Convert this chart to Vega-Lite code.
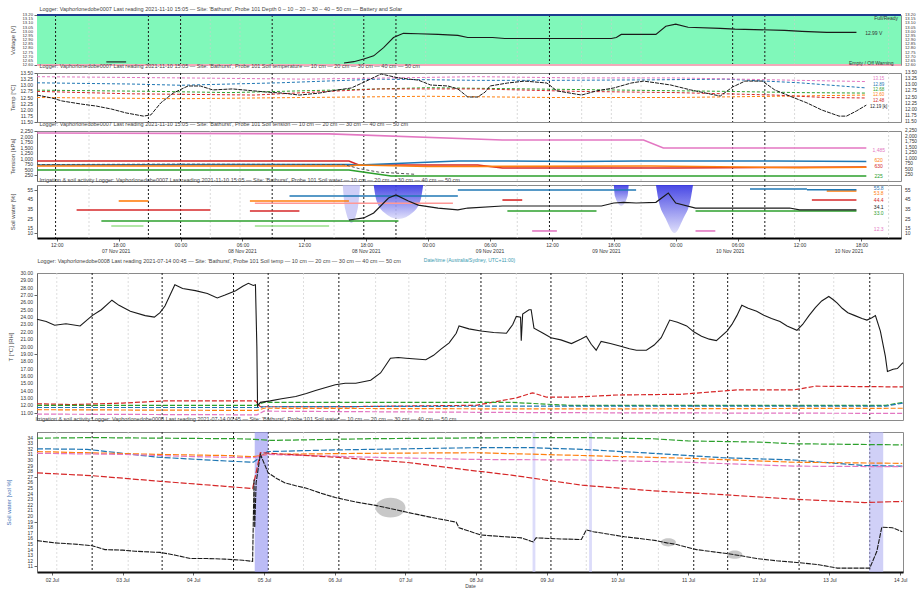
{
  "$schema": "https://vega.github.io/schema/vega-lite/v6.json",
  "background": "white",
  "padding": {"left": 5, "right": 0, "top": 6, "bottom": 0},
  "spacing": -5,
  "config": {
    "font": "Liberation Sans",
    "view": {"stroke": "#8a8a8a", "strokeWidth": 1},
    "axis": {"labelFontSize": 5, "labelColor": "#333", "titleFontSize": 6, "titleFontWeight": "normal", "titleColor": "#444", "tickSize": 3, "tickColor": "#666", "domainColor": "#666", "grid": false, "labelPadding": 1, "titlePadding": 4, "labelFlush": false, "labelOverlap": false},
    "title": {"fontSize": 5.5, "fontWeight": "normal", "anchor": "start", "color": "#444", "offset": 1, "dx": 30}
  },
  "datasets": {
    "topDark": [{"d": 7.495}, {"d": 7.87}, {"d": 8.0}, {"d": 8.37}, {"d": 8.74}, {"d": 8.87}, {"d": 9.49}, {"d": 10.23}, {"d": 10.36}],
    "topLight": [{"d": 7.63}, {"d": 8.12}, {"d": 8.24}, {"d": 8.62}, {"d": 8.99}, {"d": 9.36}, {"d": 9.62}, {"d": 9.74}, {"d": 9.86}, {"d": 10.48}, {"d": 10.86}],
    "topDates": [{"d": 7.74, "t": "07 Nov 2021"}, {"d": 8.25, "t": "08 Nov 2021"}, {"d": 8.75, "t": "08 Nov 2021"}, {"d": 9.25, "t": "09 Nov 2021"}, {"d": 9.72, "t": "09 Nov 2021"}, {"d": 10.22, "t": "10 Nov 2021"}, {"d": 10.7, "t": "10 Nov 2021"}],
    "botDark": [{"d": 2.57}, {"d": 3.56}, {"d": 4.57}, {"d": 5.06}, {"d": 6.06}, {"d": 8.07}, {"d": 9.06}, {"d": 10.07}, {"d": 11.08}, {"d": 11.56}, {"d": 12.57}, {"d": 13.57}],
    "botLight": [{"d": 2.07}, {"d": 3.08}, {"d": 4.07}, {"d": 5.56}, {"d": 6.58}, {"d": 7.05}, {"d": 7.57}, {"d": 8.57}, {"d": 9.56}, {"d": 10.58}, {"d": 12.07}, {"d": 13.06}],
    "r1": [{"v": 12.6}, {"v": 12.65}, {"v": 12.7}, {"v": 12.75}, {"v": 12.8}, {"v": 12.85}, {"v": 12.9}, {"v": 12.95}, {"v": 13.0}, {"v": 13.05}, {"v": 13.1}, {"v": 13.15}, {"v": 13.2}],
    "r2": [{"v": 11.5}, {"v": 11.75}, {"v": 12.0}, {"v": 12.25}, {"v": 12.5}, {"v": 12.75}, {"v": 13.0}, {"v": 13.25}, {"v": 13.5}],
    "r3": [{"v": 250}, {"v": 500}, {"v": 750}, {"v": 1000}, {"v": 1250}, {"v": 1500}, {"v": 1750}, {"v": 2000}, {"v": 2250}],
    "r4": [{"v": 10}, {"v": 15}, {"v": 25}, {"v": 35}, {"v": 45}, {"v": 55}],
    "r5": [{"v": 11}, {"v": 12}, {"v": 13}, {"v": 14}, {"v": 15}, {"v": 16}, {"v": 17}, {"v": 18}, {"v": 19}, {"v": 20}, {"v": 21}, {"v": 22}, {"v": 23}, {"v": 24}, {"v": 25}, {"v": 26}, {"v": 27}, {"v": 28}, {"v": 29}, {"v": 30}],
    "r6": [{"v": 11}, {"v": 12}, {"v": 13}, {"v": 14}, {"v": 15}, {"v": 16}, {"v": 17}, {"v": 18}, {"v": 19}, {"v": 20}, {"v": 21}, {"v": 22}, {"v": 23}, {"v": 24}, {"v": 25}, {"v": 26}, {"v": 27}, {"v": 28}, {"v": 29}, {"v": 30}, {"v": 31}, {"v": 32}, {"v": 33}, {"v": 34}],
    "p1": [
      {"seg": "a", "d": 7.70, "v": 12.637}, {"seg": "a", "d": 7.78, "v": 12.637},
      {"seg": "b", "d": 8.66, "v": 12.624}, {"seg": "b", "d": 8.70, "v": 12.64}, {"seg": "b", "d": 8.74, "v": 12.673}, {"seg": "b", "d": 8.78, "v": 12.71}, {"seg": "b", "d": 8.82, "v": 12.808}, {"seg": "b", "d": 8.86, "v": 12.93}, {"seg": "b", "d": 8.90, "v": 12.98}, {"seg": "b", "d": 8.96, "v": 12.975}, {"seg": "b", "d": 9.04, "v": 12.967}, {"seg": "b", "d": 9.12, "v": 12.955}, {"seg": "b", "d": 9.16, "v": 12.93}, {"seg": "b", "d": 9.26, "v": 12.93}, {"seg": "b", "d": 9.31, "v": 12.918}, {"seg": "b", "d": 9.74, "v": 12.918}, {"seg": "b", "d": 9.76, "v": 12.93}, {"seg": "b", "d": 9.78, "v": 12.967}, {"seg": "b", "d": 9.92, "v": 12.967}, {"seg": "b", "d": 9.96, "v": 13.065}, {"seg": "b", "d": 10.00, "v": 13.09}, {"seg": "b", "d": 10.05, "v": 13.053}, {"seg": "b", "d": 10.18, "v": 13.04}, {"seg": "b", "d": 10.24, "v": 13.03}, {"seg": "b", "d": 10.44, "v": 13.016}, {"seg": "b", "d": 10.51, "v": 13.004}, {"seg": "b", "d": 10.61, "v": 12.992}, {"seg": "b", "d": 10.73, "v": 12.992}
    ],
    "p1bg": [{"d1": 7.42, "d2": 10.91, "v1": 12.6, "v2": 13.2}],
    "p1lim": [{"v": 13.2, "kind": "full"}, {"v": 12.6, "kind": "empty"}],
    "p1text": [{"d": 10.85, "v": 13.17, "t": "Full/Ready"}, {"d": 10.79, "v": 12.62, "t": "Empty / Off Warning"}, {"d": 10.80, "v": 12.99, "t": "12.99 V"}],
    "p2": [
      {"s": "k", "d": 7.42, "v": 12.60}, {"s": "k", "d": 7.48, "v": 12.48}, {"s": "k", "d": 7.52, "v": 12.36}, {"s": "k", "d": 7.60, "v": 12.23}, {"s": "k", "d": 7.66, "v": 12.15}, {"s": "k", "d": 7.72, "v": 12.03}, {"s": "k", "d": 7.78, "v": 11.87}, {"s": "k", "d": 7.85, "v": 11.74}, {"s": "k", "d": 7.88, "v": 11.79}, {"s": "k", "d": 7.92, "v": 12.28}, {"s": "k", "d": 7.97, "v": 12.68}, {"s": "k", "d": 8.03, "v": 12.97}, {"s": "k", "d": 8.08, "v": 12.97}, {"s": "k", "d": 8.13, "v": 12.81}, {"s": "k", "d": 8.21, "v": 12.85}, {"s": "k", "d": 8.35, "v": 12.72}, {"s": "k", "d": 8.41, "v": 12.68}, {"s": "k", "d": 8.48, "v": 12.60}, {"s": "k", "d": 8.56, "v": 12.68}, {"s": "k", "d": 8.61, "v": 12.77}, {"s": "k", "d": 8.69, "v": 12.89}, {"s": "k", "d": 8.75, "v": 13.17}, {"s": "k", "d": 8.81, "v": 13.46}, {"s": "k", "d": 8.88, "v": 13.30}, {"s": "k", "d": 8.96, "v": 13.21}, {"s": "k", "d": 9.01, "v": 13.01}, {"s": "k", "d": 9.08, "v": 12.97}, {"s": "k", "d": 9.12, "v": 12.85}, {"s": "k", "d": 9.16, "v": 12.52}, {"s": "k", "d": 9.20, "v": 12.52}, {"s": "k", "d": 9.23, "v": 12.72}, {"s": "k", "d": 9.25, "v": 12.97}, {"s": "k", "d": 9.32, "v": 13.09}, {"s": "k", "d": 9.39, "v": 13.17}, {"s": "k", "d": 9.48, "v": 13.09}, {"s": "k", "d": 9.52, "v": 12.77}, {"s": "k", "d": 9.62, "v": 12.60}, {"s": "k", "d": 9.68, "v": 12.77}, {"s": "k", "d": 9.75, "v": 12.89}, {"s": "k", "d": 9.82, "v": 13.09}, {"s": "k", "d": 9.87, "v": 13.17}, {"s": "k", "d": 9.98, "v": 13.01}, {"s": "k", "d": 10.06, "v": 12.81}, {"s": "k", "d": 10.14, "v": 12.64}, {"s": "k", "d": 10.18, "v": 12.56}, {"s": "k", "d": 10.23, "v": 12.93}, {"s": "k", "d": 10.28, "v": 13.17}, {"s": "k", "d": 10.35, "v": 13.17}, {"s": "k", "d": 10.40, "v": 12.81}, {"s": "k", "d": 10.46, "v": 12.56}, {"s": "k", "d": 10.53, "v": 12.28}, {"s": "k", "d": 10.59, "v": 11.99}, {"s": "k", "d": 10.66, "v": 11.74}, {"s": "k", "d": 10.69, "v": 11.74}, {"s": "k", "d": 10.73, "v": 11.95}, {"s": "k", "d": 10.77, "v": 12.19},
      {"s": "b", "d": 7.42, "v": 13.10}, {"s": "b", "d": 7.8, "v": 13.05}, {"s": "b", "d": 8.0, "v": 13.0}, {"s": "b", "d": 8.4, "v": 13.1}, {"s": "b", "d": 8.8, "v": 13.25}, {"s": "b", "d": 9.2, "v": 13.2}, {"s": "b", "d": 9.5, "v": 13.2}, {"s": "b", "d": 9.9, "v": 13.22}, {"s": "b", "d": 10.2, "v": 13.25}, {"s": "b", "d": 10.5, "v": 13.1}, {"s": "b", "d": 10.77, "v": 12.89},
      {"s": "p", "d": 7.42, "v": 13.35}, {"s": "p", "d": 8.0, "v": 13.3}, {"s": "p", "d": 8.5, "v": 13.25}, {"s": "p", "d": 9.2, "v": 13.35}, {"s": "p", "d": 9.6, "v": 13.3}, {"s": "p", "d": 10.0, "v": 13.3}, {"s": "p", "d": 10.5, "v": 13.2}, {"s": "p", "d": 10.77, "v": 13.15},
      {"s": "g", "d": 7.42, "v": 12.8}, {"s": "g", "d": 7.9, "v": 12.75}, {"s": "g", "d": 8.2, "v": 12.7}, {"s": "g", "d": 8.6, "v": 12.8}, {"s": "g", "d": 9.0, "v": 12.9}, {"s": "g", "d": 9.4, "v": 12.85}, {"s": "g", "d": 9.8, "v": 12.8}, {"s": "g", "d": 10.2, "v": 12.75}, {"s": "g", "d": 10.5, "v": 12.7}, {"s": "g", "d": 10.77, "v": 12.68},
      {"s": "o", "d": 7.42, "v": 12.5}, {"s": "o", "d": 8.0, "v": 12.45}, {"s": "o", "d": 8.5, "v": 12.5}, {"s": "o", "d": 9.0, "v": 12.55}, {"s": "o", "d": 9.5, "v": 12.5}, {"s": "o", "d": 10.0, "v": 12.5}, {"s": "o", "d": 10.4, "v": 12.55}, {"s": "o", "d": 10.77, "v": 12.6},
      {"s": "r", "d": 7.42, "v": 12.75}, {"s": "r", "d": 7.8, "v": 12.65}, {"s": "r", "d": 8.3, "v": 12.6}, {"s": "r", "d": 8.8, "v": 12.85}, {"s": "r", "d": 9.2, "v": 12.85}, {"s": "r", "d": 9.6, "v": 12.75}, {"s": "r", "d": 10.0, "v": 12.7}, {"s": "r", "d": 10.4, "v": 12.6}, {"s": "r", "d": 10.6, "v": 12.5}, {"s": "r", "d": 10.77, "v": 12.48}
    ],
    "p2lab": [{"s": "p", "d": 10.82, "v": 13.25, "t": "13.15"}, {"s": "b", "d": 10.82, "v": 13.03, "t": "12.89"}, {"s": "g", "d": 10.82, "v": 12.81, "t": "12.68"}, {"s": "o", "d": 10.82, "v": 12.59, "t": "12.60"}, {"s": "r", "d": 10.82, "v": 12.37, "t": "12.48"}, {"s": "k", "d": 10.82, "v": 12.12, "t": "12.19 [k]"}],
    "p3": [
      {"s": "r", "d": 7.42, "v": 900}, {"s": "r", "d": 8.68, "v": 900}, {"s": "r", "d": 8.72, "v": 720}, {"s": "r", "d": 9.2, "v": 720}, {"s": "r", "d": 9.3, "v": 585}, {"s": "r", "d": 10.0, "v": 585}, {"s": "r", "d": 10.77, "v": 630},
      {"s": "b", "d": 7.42, "v": 720}, {"s": "b", "d": 8.2, "v": 740}, {"s": "b", "d": 8.68, "v": 740}, {"s": "b", "d": 8.72, "v": 720}, {"s": "b", "d": 9.12, "v": 900}, {"s": "b", "d": 9.3, "v": 900}, {"s": "b", "d": 9.6, "v": 880}, {"s": "b", "d": 9.85, "v": 900}, {"s": "b", "d": 10.4, "v": 900}, {"s": "b", "d": 10.77, "v": 880},
      {"s": "g", "d": 7.42, "v": 495}, {"s": "g", "d": 8.68, "v": 495}, {"s": "g", "d": 8.75, "v": 380}, {"s": "g", "d": 8.85, "v": 225}, {"s": "g", "d": 9.5, "v": 225}, {"s": "g", "d": 10.77, "v": 225},
      {"s": "o", "d": 7.42, "v": 675}, {"s": "o", "d": 8.68, "v": 675}, {"s": "o", "d": 8.72, "v": 720}, {"s": "o", "d": 9.0, "v": 650}, {"s": "o", "d": 9.9, "v": 675}, {"s": "o", "d": 10.5, "v": 600}, {"s": "o", "d": 10.77, "v": 620},
      {"s": "p", "d": 7.42, "v": 2160}, {"s": "p", "d": 8.6, "v": 2120}, {"s": "p", "d": 9.3, "v": 1845}, {"s": "p", "d": 9.87, "v": 1845}, {"s": "p", "d": 9.95, "v": 1485}, {"s": "p", "d": 10.77, "v": 1485},
      {"s": "k", "d": 7.42, "v": 740}, {"s": "k", "d": 8.0, "v": 760}, {"s": "k", "d": 8.66, "v": 740}, {"s": "k", "d": 8.72, "v": 560}, {"s": "k", "d": 8.80, "v": 400}, {"s": "k", "d": 8.95, "v": 300}
    ],
    "p3lab": [{"s": "p", "d": 10.82, "v": 1400, "t": "1,485"}, {"s": "o", "d": 10.82, "v": 960, "t": "620"}, {"s": "r", "d": 10.82, "v": 680, "t": "630"}, {"s": "g", "d": 10.82, "v": 240, "t": "225"}],
    "p4": [
      {"s": "k", "seg": "k1", "d": 8.68, "v": 23.7}, {"s": "k", "seg": "k1", "d": 8.74, "v": 25.8}, {"s": "k", "seg": "k1", "d": 8.78, "v": 30.9}, {"s": "k", "seg": "k1", "d": 8.84, "v": 46.5}, {"s": "k", "seg": "k1", "d": 8.87, "v": 49.6}, {"s": "k", "seg": "k1", "d": 8.92, "v": 43.4}, {"s": "k", "seg": "k1", "d": 8.96, "v": 39.2}, {"s": "k", "seg": "k1", "d": 9.04, "v": 36.1}, {"s": "k", "seg": "k1", "d": 9.12, "v": 34.1}, {"s": "k", "seg": "k1", "d": 9.16, "v": 36.1}, {"s": "k", "seg": "k1", "d": 9.30, "v": 38.2}, {"s": "k", "seg": "k1", "d": 9.70, "v": 38.2}, {"s": "k", "seg": "k1", "d": 9.75, "v": 41.3}, {"s": "k", "seg": "k1", "d": 9.79, "v": 42.0}, {"s": "k", "seg": "k1", "d": 9.84, "v": 41.3}, {"s": "k", "seg": "k1", "d": 9.92, "v": 42.0}, {"s": "k", "seg": "k1", "d": 9.97, "v": 51.7}, {"s": "k", "seg": "k1", "d": 10.0, "v": 41.3}, {"s": "k", "seg": "k1", "d": 10.08, "v": 36.1}, {"s": "k", "seg": "k1", "d": 10.30, "v": 36.1}, {"s": "k", "seg": "k1", "d": 10.46, "v": 36.1}, {"s": "k", "seg": "k1", "d": 10.50, "v": 34.1}, {"s": "k", "seg": "k1", "d": 10.73, "v": 34.1},
      {"s": "r", "seg": "r1", "d": 7.58, "v": 34.1}, {"s": "r", "seg": "r1", "d": 8.12, "v": 34.1}, {"s": "r", "seg": "r2", "d": 8.28, "v": 33.0}, {"s": "r", "seg": "r2", "d": 8.48, "v": 33.0}, {"s": "r", "seg": "r3", "d": 9.30, "v": 44.4}, {"s": "r", "seg": "r3", "d": 9.38, "v": 44.4}, {"s": "r", "seg": "r4", "d": 10.55, "v": 44.4}, {"s": "r", "seg": "r4", "d": 10.73, "v": 44.4},
      {"s": "o", "seg": "o1", "d": 7.75, "v": 43.4}, {"s": "o", "seg": "o1", "d": 7.87, "v": 43.4}, {"s": "o", "seg": "o2", "d": 8.28, "v": 43.4}, {"s": "o", "seg": "o2", "d": 8.68, "v": 43.4}, {"s": "o", "seg": "o3", "d": 10.61, "v": 53.8}, {"s": "o", "seg": "o3", "d": 10.73, "v": 53.8},
      {"s": "b", "seg": "b1", "d": 8.44, "v": 48.6}, {"s": "b", "seg": "b1", "d": 9.12, "v": 48.6}, {"s": "b", "seg": "b2", "d": 9.12, "v": 54.8}, {"s": "b", "seg": "b2", "d": 9.84, "v": 54.8}, {"s": "b", "seg": "b3", "d": 10.30, "v": 55.8}, {"s": "b", "seg": "b3", "d": 10.53, "v": 55.8}, {"s": "b", "seg": "b4", "d": 10.53, "v": 55.0}, {"s": "b", "seg": "b4", "d": 10.73, "v": 55.0},
      {"s": "g", "seg": "g1", "d": 7.68, "v": 22.6}, {"s": "g", "seg": "g1", "d": 8.88, "v": 22.6}, {"s": "g", "seg": "g2", "d": 9.32, "v": 33.0}, {"s": "g", "seg": "g2", "d": 9.68, "v": 33.0}, {"s": "g", "seg": "g3", "d": 10.08, "v": 33.0}, {"s": "g", "seg": "g3", "d": 10.73, "v": 33.0},
      {"s": "lg", "seg": "lg1", "d": 7.72, "v": 17.5}, {"s": "lg", "seg": "lg1", "d": 7.85, "v": 17.5}, {"s": "lg", "seg": "lg2", "d": 8.30, "v": 17.5}, {"s": "lg", "seg": "lg2", "d": 8.60, "v": 17.5},
      {"s": "lr", "seg": "lr1", "d": 8.30, "v": 41.0}, {"s": "lr", "seg": "lr1", "d": 9.10, "v": 41.0},
      {"s": "p", "seg": "p1", "d": 9.42, "v": 12.3}, {"s": "p", "seg": "p1", "d": 9.52, "v": 12.3}, {"s": "p", "seg": "p2", "d": 10.08, "v": 12.3}, {"s": "p", "seg": "p2", "d": 10.16, "v": 12.3}
    ],
    "p4lab": [{"s": "b", "d": 10.82, "v": 57.0, "t": "55.8"}, {"s": "o", "d": 10.82, "v": 51.5, "t": "53.8"}, {"s": "r", "d": 10.82, "v": 44.4, "t": "44.4"}, {"s": "k", "d": 10.82, "v": 37.0, "t": "34.1"}, {"s": "g", "d": 10.82, "v": 30.5, "t": "33.0"}, {"s": "p", "d": 10.82, "v": 14.0, "t": "12.3"}],
    "p4blob": [
      {"kind": "light", "seg": "L", "d": 8.655, "v": 60, "top": 60}, {"kind": "light", "seg": "L", "d": 8.665, "v": 35, "top": 60}, {"kind": "light", "seg": "L", "d": 8.69, "v": 20.6, "top": 60}, {"kind": "light", "seg": "L", "d": 8.715, "v": 35, "top": 60}, {"kind": "light", "seg": "L", "d": 8.725, "v": 60, "top": 60},
      {"kind": "dark", "seg": "A", "d": 8.78, "v": 60, "top": 60}, {"kind": "dark", "seg": "A", "d": 8.79, "v": 45, "top": 60}, {"kind": "dark", "seg": "A", "d": 8.82, "v": 32, "top": 60}, {"kind": "dark", "seg": "A", "d": 8.88, "v": 24.7, "top": 60}, {"kind": "dark", "seg": "A", "d": 8.94, "v": 32, "top": 60}, {"kind": "dark", "seg": "A", "d": 8.97, "v": 45, "top": 60}, {"kind": "dark", "seg": "A", "d": 8.98, "v": 60, "top": 60},
      {"kind": "dark", "seg": "B", "d": 9.75, "v": 60, "top": 60}, {"kind": "dark", "seg": "B", "d": 9.755, "v": 48, "top": 60}, {"kind": "dark", "seg": "B", "d": 9.78, "v": 38.2, "top": 60}, {"kind": "dark", "seg": "B", "d": 9.805, "v": 48, "top": 60}, {"kind": "dark", "seg": "B", "d": 9.81, "v": 60, "top": 60},
      {"kind": "dark", "seg": "C", "d": 9.92, "v": 60, "top": 60}, {"kind": "dark", "seg": "C", "d": 9.93, "v": 45, "top": 60}, {"kind": "dark", "seg": "C", "d": 9.96, "v": 25, "top": 60}, {"kind": "dark", "seg": "C", "d": 9.995, "v": 10.2, "top": 60}, {"kind": "dark", "seg": "C", "d": 10.03, "v": 25, "top": 60}, {"kind": "dark", "seg": "C", "d": 10.06, "v": 45, "top": 60}, {"kind": "dark", "seg": "C", "d": 10.07, "v": 60, "top": 60}
    ],
    "p5": [
      {"s": "k", "d": 1.79, "v": 23.7}, {"s": "k", "d": 1.92, "v": 23.4}, {"s": "k", "d": 2.04, "v": 22.9}, {"s": "k", "d": 2.2, "v": 23.1}, {"s": "k", "d": 2.40, "v": 22.8}, {"s": "k", "d": 2.57, "v": 24.2}, {"s": "k", "d": 2.7, "v": 25.0}, {"s": "k", "d": 2.85, "v": 26.3}, {"s": "k", "d": 2.95, "v": 25.6}, {"s": "k", "d": 3.11, "v": 24.8}, {"s": "k", "d": 3.32, "v": 24.2}, {"s": "k", "d": 3.45, "v": 24.0}, {"s": "k", "d": 3.53, "v": 24.6}, {"s": "k", "d": 3.60, "v": 25.5}, {"s": "k", "d": 3.74, "v": 28.4}, {"s": "k", "d": 3.85, "v": 27.9}, {"s": "k", "d": 4.03, "v": 27.6}, {"s": "k", "d": 4.2, "v": 27.2}, {"s": "k", "d": 4.34, "v": 26.6}, {"s": "k", "d": 4.45, "v": 27.0}, {"s": "k", "d": 4.60, "v": 27.6}, {"s": "k", "d": 4.70, "v": 28.2}, {"s": "k", "d": 4.78, "v": 28.6}, {"s": "k", "d": 4.85, "v": 28.3}, {"s": "k", "d": 4.88, "v": 28.4}, {"s": "k", "d": 4.90, "v": 20.0}, {"s": "k", "d": 4.91, "v": 11.9}, {"s": "k", "d": 4.95, "v": 12.4}, {"s": "k", "d": 5.09, "v": 12.6}, {"s": "k", "d": 5.25, "v": 12.9}, {"s": "k", "d": 5.45, "v": 13.2}, {"s": "k", "d": 5.6, "v": 13.6}, {"s": "k", "d": 5.73, "v": 14.0}, {"s": "k", "d": 5.9, "v": 14.5}, {"s": "k", "d": 6.01, "v": 14.8}, {"s": "k", "d": 6.15, "v": 15.0}, {"s": "k", "d": 6.30, "v": 15.0}, {"s": "k", "d": 6.51, "v": 15.4}, {"s": "k", "d": 6.65, "v": 16.4}, {"s": "k", "d": 6.79, "v": 18.4}, {"s": "k", "d": 6.9, "v": 18.5}, {"s": "k", "d": 7.01, "v": 18.4}, {"s": "k", "d": 7.15, "v": 18.3}, {"s": "k", "d": 7.29, "v": 18.2}, {"s": "k", "d": 7.40, "v": 18.8}, {"s": "k", "d": 7.50, "v": 19.6}, {"s": "k", "d": 7.62, "v": 20.5}, {"s": "k", "d": 7.72, "v": 21.8}, {"s": "k", "d": 7.76, "v": 22.8}, {"s": "k", "d": 7.9, "v": 22.4}, {"s": "k", "d": 8.07, "v": 22.1}, {"s": "k", "d": 8.25, "v": 21.9}, {"s": "k", "d": 8.43, "v": 21.8}, {"s": "k", "d": 8.52, "v": 23.0}, {"s": "k", "d": 8.57, "v": 24.1}, {"s": "k", "d": 8.63, "v": 24.0}, {"s": "k", "d": 8.64, "v": 20.8}, {"s": "k", "d": 8.66, "v": 24.4}, {"s": "k", "d": 8.75, "v": 25.0}, {"s": "k", "d": 8.78, "v": 25.0}, {"s": "k", "d": 8.82, "v": 22.5}, {"s": "k", "d": 8.95, "v": 21.8}, {"s": "k", "d": 9.06, "v": 21.2}, {"s": "k", "d": 9.2, "v": 20.9}, {"s": "k", "d": 9.35, "v": 20.4}, {"s": "k", "d": 9.48, "v": 21.0}, {"s": "k", "d": 9.56, "v": 21.4}, {"s": "k", "d": 9.63, "v": 20.3}, {"s": "k", "d": 9.70, "v": 19.5}, {"s": "k", "d": 9.77, "v": 20.7}, {"s": "k", "d": 9.9, "v": 20.4}, {"s": "k", "d": 10.06, "v": 20.0}, {"s": "k", "d": 10.17, "v": 19.7}, {"s": "k", "d": 10.27, "v": 19.5}, {"s": "k", "d": 10.41, "v": 19.5}, {"s": "k", "d": 10.52, "v": 20.2}, {"s": "k", "d": 10.62, "v": 21.2}, {"s": "k", "d": 10.74, "v": 23.6}, {"s": "k", "d": 10.85, "v": 23.3}, {"s": "k", "d": 10.98, "v": 22.8}, {"s": "k", "d": 11.08, "v": 22.0}, {"s": "k", "d": 11.19, "v": 21.4}, {"s": "k", "d": 11.30, "v": 21.0}, {"s": "k", "d": 11.40, "v": 20.8}, {"s": "k", "d": 11.55, "v": 22.1}, {"s": "k", "d": 11.62, "v": 23.0}, {"s": "k", "d": 11.69, "v": 24.2}, {"s": "k", "d": 11.76, "v": 25.6}, {"s": "k", "d": 11.85, "v": 25.2}, {"s": "k", "d": 11.97, "v": 24.8}, {"s": "k", "d": 12.08, "v": 24.2}, {"s": "k", "d": 12.18, "v": 23.8}, {"s": "k", "d": 12.30, "v": 23.4}, {"s": "k", "d": 12.40, "v": 22.8}, {"s": "k", "d": 12.54, "v": 22.2}, {"s": "k", "d": 12.62, "v": 23.0}, {"s": "k", "d": 12.71, "v": 24.2}, {"s": "k", "d": 12.80, "v": 25.3}, {"s": "k", "d": 12.89, "v": 26.2}, {"s": "k", "d": 12.99, "v": 26.8}, {"s": "k", "d": 13.05, "v": 26.4}, {"s": "k", "d": 13.11, "v": 25.9}, {"s": "k", "d": 13.18, "v": 25.2}, {"s": "k", "d": 13.26, "v": 24.6}, {"s": "k", "d": 13.36, "v": 24.2}, {"s": "k", "d": 13.46, "v": 23.8}, {"s": "k", "d": 13.53, "v": 23.6}, {"s": "k", "d": 13.60, "v": 23.9}, {"s": "k", "d": 13.65, "v": 24.2}, {"s": "k", "d": 13.72, "v": 22.1}, {"s": "k", "d": 13.79, "v": 18.7}, {"s": "k", "d": 13.82, "v": 16.6}, {"s": "k", "d": 13.90, "v": 16.9}, {"s": "k", "d": 13.96, "v": 17.0}, {"s": "k", "d": 14.04, "v": 17.8},
      {"s": "r", "d": 1.79, "v": 12.2}, {"s": "r", "d": 2.3, "v": 12.1}, {"s": "r", "d": 3.0, "v": 12.3}, {"s": "r", "d": 3.6, "v": 12.6}, {"s": "r", "d": 4.88, "v": 12.6}, {"s": "r", "d": 4.95, "v": 11.8}, {"s": "r", "d": 6.0, "v": 11.8}, {"s": "r", "d": 7.0, "v": 11.9}, {"s": "r", "d": 8.0, "v": 12.0}, {"s": "r", "d": 8.57, "v": 13.0}, {"s": "r", "d": 8.8, "v": 13.7}, {"s": "r", "d": 9.0, "v": 13.1}, {"s": "r", "d": 9.35, "v": 13.1}, {"s": "r", "d": 10.0, "v": 13.4}, {"s": "r", "d": 10.9, "v": 13.5}, {"s": "r", "d": 11.7, "v": 14.1}, {"s": "r", "d": 12.5, "v": 14.1}, {"s": "r", "d": 12.8, "v": 14.6}, {"s": "r", "d": 14.04, "v": 14.5},
      {"s": "g", "d": 1.79, "v": 12.0}, {"s": "g", "d": 4.88, "v": 12.0}, {"s": "g", "d": 5.0, "v": 12.4}, {"s": "g", "d": 8.5, "v": 12.4}, {"s": "g", "d": 9.3, "v": 12.0}, {"s": "g", "d": 13.8, "v": 12.0}, {"s": "g", "d": 14.04, "v": 12.4},
      {"s": "b", "d": 1.79, "v": 11.7}, {"s": "b", "d": 4.9, "v": 11.7}, {"s": "b", "d": 5.0, "v": 11.8}, {"s": "b", "d": 9.0, "v": 11.9}, {"s": "b", "d": 13.8, "v": 11.9}, {"s": "b", "d": 14.04, "v": 12.3},
      {"s": "o", "d": 1.79, "v": 11.4}, {"s": "o", "d": 4.9, "v": 11.3}, {"s": "o", "d": 5.0, "v": 11.6}, {"s": "o", "d": 9.0, "v": 11.5}, {"s": "o", "d": 14.04, "v": 11.6},
      {"s": "p", "d": 1.79, "v": 10.8}, {"s": "p", "d": 4.9, "v": 10.7}, {"s": "p", "d": 5.0, "v": 11.2}, {"s": "p", "d": 9.0, "v": 11.0}, {"s": "p", "d": 14.04, "v": 10.9}
    ],
    "p6": [
      {"s": "k", "d": 1.79, "v": 15.6}, {"s": "k", "d": 2.04, "v": 15.2}, {"s": "k", "d": 2.3, "v": 15.0}, {"s": "k", "d": 2.57, "v": 14.7}, {"s": "k", "d": 2.75, "v": 14.0}, {"s": "k", "d": 3.0, "v": 13.9}, {"s": "k", "d": 3.18, "v": 13.7}, {"s": "k", "d": 3.53, "v": 13.5}, {"s": "k", "d": 3.75, "v": 13.0}, {"s": "k", "d": 3.96, "v": 12.4}, {"s": "k", "d": 4.2, "v": 12.4}, {"s": "k", "d": 4.45, "v": 12.3}, {"s": "k", "d": 4.70, "v": 12.1}, {"s": "k", "d": 4.84, "v": 11.9}, {"s": "k", "d": 4.86, "v": 26.6}, {"s": "k", "d": 4.87, "v": 18.0}, {"s": "k", "d": 4.89, "v": 26.0}, {"s": "k", "d": 4.95, "v": 31.0}, {"s": "k", "d": 5.06, "v": 27.7}, {"s": "k", "d": 5.18, "v": 26.7}, {"s": "k", "d": 5.30, "v": 25.9}, {"s": "k", "d": 5.45, "v": 25.4}, {"s": "k", "d": 5.59, "v": 25.0}, {"s": "k", "d": 5.80, "v": 24.1}, {"s": "k", "d": 6.01, "v": 23.3}, {"s": "k", "d": 6.30, "v": 22.5}, {"s": "k", "d": 6.58, "v": 21.9}, {"s": "k", "d": 6.80, "v": 21.3}, {"s": "k", "d": 7.01, "v": 20.7}, {"s": "k", "d": 7.35, "v": 19.8}, {"s": "k", "d": 7.72, "v": 18.9}, {"s": "k", "d": 7.76, "v": 17.9}, {"s": "k", "d": 8.07, "v": 16.6}, {"s": "k", "d": 8.40, "v": 16.3}, {"s": "k", "d": 8.64, "v": 16.1}, {"s": "k", "d": 8.78, "v": 15.5}, {"s": "k", "d": 8.81, "v": 15.4}, {"s": "k", "d": 8.85, "v": 16.1}, {"s": "k", "d": 9.2, "v": 15.9}, {"s": "k", "d": 9.49, "v": 15.8}, {"s": "k", "d": 9.56, "v": 17.5}, {"s": "k", "d": 9.66, "v": 17.2}, {"s": "k", "d": 9.90, "v": 16.7}, {"s": "k", "d": 10.10, "v": 16.3}, {"s": "k", "d": 10.30, "v": 16.0}, {"s": "k", "d": 10.55, "v": 15.6}, {"s": "k", "d": 10.70, "v": 15.2}, {"s": "k", "d": 10.84, "v": 14.9}, {"s": "k", "d": 11.12, "v": 14.0}, {"s": "k", "d": 11.30, "v": 13.7}, {"s": "k", "d": 11.55, "v": 13.3}, {"s": "k", "d": 11.75, "v": 12.9}, {"s": "k", "d": 11.97, "v": 12.4}, {"s": "k", "d": 12.25, "v": 12.0}, {"s": "k", "d": 12.54, "v": 11.7}, {"s": "k", "d": 12.85, "v": 11.3}, {"s": "k", "d": 13.11, "v": 10.7}, {"s": "k", "d": 13.35, "v": 10.7}, {"s": "k", "d": 13.57, "v": 10.7}, {"s": "k", "d": 13.67, "v": 13.7}, {"s": "k", "d": 13.74, "v": 18.0}, {"s": "k", "d": 13.89, "v": 17.9}, {"s": "k", "d": 14.03, "v": 17.2},
      {"s": "g", "d": 1.79, "v": 33.9}, {"s": "g", "d": 2.6, "v": 34.0}, {"s": "g", "d": 3.5, "v": 33.9}, {"s": "g", "d": 4.6, "v": 33.8}, {"s": "g", "d": 4.85, "v": 33.7}, {"s": "g", "d": 5.1, "v": 33.5}, {"s": "g", "d": 6.5, "v": 33.8}, {"s": "g", "d": 7.5, "v": 33.9}, {"s": "g", "d": 8.6, "v": 34.0}, {"s": "g", "d": 9.5, "v": 34.0}, {"s": "g", "d": 10.5, "v": 33.8}, {"s": "g", "d": 11.0, "v": 33.4}, {"s": "g", "d": 12.0, "v": 33.2}, {"s": "g", "d": 12.5, "v": 32.9}, {"s": "g", "d": 14.03, "v": 32.7},
      {"s": "b", "d": 1.79, "v": 32.0}, {"s": "b", "d": 2.5, "v": 31.9}, {"s": "b", "d": 3.5, "v": 30.5}, {"s": "b", "d": 4.5, "v": 29.8}, {"s": "b", "d": 4.85, "v": 29.6}, {"s": "b", "d": 5.05, "v": 31.5}, {"s": "b", "d": 6.0, "v": 31.8}, {"s": "b", "d": 7.0, "v": 32.0}, {"s": "b", "d": 8.0, "v": 32.2}, {"s": "b", "d": 8.8, "v": 32.2}, {"s": "b", "d": 9.5, "v": 31.9}, {"s": "b", "d": 10.5, "v": 31.2}, {"s": "b", "d": 11.5, "v": 30.4}, {"s": "b", "d": 12.5, "v": 30.0}, {"s": "b", "d": 13.5, "v": 29.0}, {"s": "b", "d": 14.03, "v": 28.9},
      {"s": "o", "d": 1.79, "v": 31.5}, {"s": "o", "d": 3.5, "v": 31.0}, {"s": "o", "d": 4.45, "v": 30.8}, {"s": "o", "d": 4.85, "v": 30.6}, {"s": "o", "d": 5.05, "v": 31.0}, {"s": "o", "d": 6.5, "v": 31.2}, {"s": "o", "d": 8.0, "v": 31.3}, {"s": "o", "d": 9.5, "v": 30.8}, {"s": "o", "d": 11.0, "v": 30.3}, {"s": "o", "d": 12.5, "v": 29.6}, {"s": "o", "d": 14.03, "v": 29.4},
      {"s": "p", "d": 1.79, "v": 31.2}, {"s": "p", "d": 3.0, "v": 31.0}, {"s": "p", "d": 4.0, "v": 30.6}, {"s": "p", "d": 4.85, "v": 30.4}, {"s": "p", "d": 5.05, "v": 31.0}, {"s": "p", "d": 6.5, "v": 30.5}, {"s": "p", "d": 8.0, "v": 30.1}, {"s": "p", "d": 9.5, "v": 30.0}, {"s": "p", "d": 11.0, "v": 29.6}, {"s": "p", "d": 12.5, "v": 28.9}, {"s": "p", "d": 14.03, "v": 28.8},
      {"s": "r", "d": 1.79, "v": 27.7}, {"s": "r", "d": 2.57, "v": 27.2}, {"s": "r", "d": 3.53, "v": 26.2}, {"s": "r", "d": 4.45, "v": 25.3}, {"s": "r", "d": 4.84, "v": 24.9}, {"s": "r", "d": 4.95, "v": 31.3}, {"s": "r", "d": 6.0, "v": 30.5}, {"s": "r", "d": 7.0, "v": 29.6}, {"s": "r", "d": 7.76, "v": 28.4}, {"s": "r", "d": 8.5, "v": 27.3}, {"s": "r", "d": 9.5, "v": 25.5}, {"s": "r", "d": 10.5, "v": 24.5}, {"s": "r", "d": 11.5, "v": 23.8}, {"s": "r", "d": 12.5, "v": 23.0}, {"s": "r", "d": 13.5, "v": 22.4}, {"s": "r", "d": 14.03, "v": 22.6}
    ],
    "p6bands": [{"kind": "event", "d1": 4.87, "d2": 5.06, "v1": 10, "v2": 35}, {"kind": "minor", "d1": 8.80, "d2": 8.84, "v1": 10, "v2": 35}, {"kind": "minor", "d1": 9.60, "d2": 9.64, "v1": 10, "v2": 35}, {"kind": "end", "d1": 13.56, "d2": 13.76, "v1": 10, "v2": 35}],
    "p6ell": [{"kind": "big", "d": 6.79, "v": 21.5}, {"kind": "small", "d": 10.72, "v": 15.3}, {"kind": "small", "d": 11.66, "v": 13.1}]
  },
  "vconcat": [
    {
      "width": 864, "height": 50,
      "title": {"text": "Logger: Vaphorlonedobe0007    Last reading 2021-11-10 15:05   \u2014 Site: 'Bathurst', Probe 101    Depth 0 \u2013 10 \u2013 20 \u2013 30 \u2013 40 \u2013 50 cm \u2014 Battery and Solar"},
      "layer": [
        {"data": {"name": "p1bg"}, "mark": {"type": "rect", "color": "#80f8ba"},
         "encoding": {"x": {"field": "d1", "type": "quantitative", "scale": {"domain": [7.42, 10.91], "nice": false, "zero": false}, "axis": null}, "x2": {"field": "d2"},
                      "y": {"field": "v1", "type": "quantitative", "scale": {"domain": [12.6, 13.2], "nice": false, "zero": false}}, "y2": {"field": "v2"}}},
        {"data": {"name": "topLight"}, "mark": {"type": "rule", "color": "#b9d8c6", "strokeDash": [2, 2], "strokeWidth": 0.8}, "encoding": {"x": {"field": "d", "type": "quantitative", "scale": {"domain": [7.42, 10.91], "nice": false, "zero": false}, "axis": null}}},
        {"data": {"name": "topDark"}, "mark": {"type": "rule", "color": "#1a1a1a", "strokeDash": [2, 2], "strokeWidth": 1}, "encoding": {"x": {"field": "d", "type": "quantitative", "scale": {"domain": [7.42, 10.91], "nice": false, "zero": false}, "axis": null}}},
        {"data": {"name": "p1lim"}, "transform": [{"filter": "datum.kind == 'full'"}], "mark": {"type": "rule", "color": "#1c3d8f", "strokeWidth": 2}, "encoding": {"y": {"field": "v", "type": "quantitative", "scale": {"domain": [12.6, 13.2], "nice": false, "zero": false}}}},
        {"data": {"name": "p1lim"}, "transform": [{"filter": "datum.kind == 'empty'"}], "mark": {"type": "rule", "color": "#f3a9b9", "strokeWidth": 2}, "encoding": {"y": {"field": "v", "type": "quantitative", "scale": {"domain": [12.6, 13.2], "nice": false, "zero": false}}}},
        {"data": {"name": "p1"}, "mark": {"type": "line", "color": "#1a1a1a", "strokeWidth": 1.1},
         "encoding": {"x": {"field": "d", "type": "quantitative", "scale": {"domain": [7.42, 10.91], "nice": false, "zero": false}, "axis": null},
                      "y": {"field": "v", "type": "quantitative", "scale": {"domain": [12.6, 13.2], "nice": false, "zero": false}, "axis": {"orient": "left", "title": "Voltage [V]", "values": [12.6, 12.65, 12.7, 12.75, 12.8, 12.85, 12.9, 12.95, 13.0, 13.05, 13.1, 13.15, 13.2], "labels": false, "titlePadding": 18}},
                      "detail": {"field": "seg"}}},
        {"data": {"name": "p1text"}, "mark": {"type": "text", "fontSize": 5, "color": "#333", "align": "center"},
         "encoding": {"x": {"field": "d", "type": "quantitative", "scale": {"domain": [7.42, 10.91], "nice": false, "zero": false}, "axis": null},
                      "y": {"field": "v", "type": "quantitative", "scale": {"domain": [12.6, 13.2], "nice": false, "zero": false}},
                      "text": {"field": "t"}}},
        {"data": {"name": "r1"}, "mark": {"type": "text", "fontSize": 4.2, "color": "#333", "align": "left", "dx": 4},
         "encoding": {"x": {"datum": 10.91, "type": "quantitative", "scale": {"domain": [7.42, 10.91], "nice": false, "zero": false}, "axis": null},
                      "y": {"field": "v", "type": "quantitative", "scale": {"domain": [12.6, 13.2], "nice": false, "zero": false}},
                      "text": {"field": "v", "type": "quantitative", "format": ".2f"}}},
        {"data": {"name": "r1"}, "mark": {"type": "text", "fontSize": 4.2, "color": "#333", "align": "right", "dx": -4},
         "encoding": {"x": {"datum": 7.42, "type": "quantitative", "scale": {"domain": [7.42, 10.91], "nice": false, "zero": false}, "axis": null},
                      "y": {"field": "v", "type": "quantitative", "scale": {"domain": [12.6, 13.2], "nice": false, "zero": false}},
                      "text": {"field": "v", "type": "quantitative", "format": ".2f"}}}
      ]
    },
    {
      "width": 864, "height": 49,
      "title": {"text": "Logger: Vaphorlonedobe0007    Last reading 2021-11-10 15:05   \u2014 Site: 'Bathurst', Probe 101    Soil temperature   \u2014 10 cm   \u2014 20 cm   \u2014 30 cm   \u2014 40 cm   \u2014 50 cm"},
      "layer": [
        {"data": {"name": "topLight"}, "mark": {"type": "rule", "color": "#d0d0d0", "strokeDash": [2, 2], "strokeWidth": 0.8}, "encoding": {"x": {"field": "d", "type": "quantitative", "scale": {"domain": [7.42, 10.91], "nice": false, "zero": false}, "axis": null}}},
        {"data": {"name": "topDark"}, "mark": {"type": "rule", "color": "#1a1a1a", "strokeDash": [2, 2], "strokeWidth": 1}, "encoding": {"x": {"field": "d", "type": "quantitative", "scale": {"domain": [7.42, 10.91], "nice": false, "zero": false}, "axis": null}}},
        {"data": {"name": "p2"}, "transform": [{"filter": "datum.s != 'k'"}], "mark": {"type": "line", "strokeWidth": 1, "strokeDash": [3, 2]},
         "encoding": {"x": {"field": "d", "type": "quantitative", "scale": {"domain": [7.42, 10.91], "nice": false, "zero": false}, "axis": null},
                      "y": {"field": "v", "type": "quantitative", "scale": {"domain": [11.5, 13.5], "nice": false, "zero": false}, "axis": {"orient": "left", "title": "Temp [\u00b0C]", "values": [11.5, 11.75, 12, 12.25, 12.5, 12.75, 13, 13.25, 13.5], "labels": false, "titlePadding": 18}},
                      "color": {"field": "s", "type": "nominal", "scale": {"domain": ["k", "b", "p", "g", "o", "r", "lg", "lr"], "range": ["#1a1a1a", "#1f77b4", "#e377c2", "#2ca02c", "#ff7f0e", "#d62728", "#98df8a", "#ff9896"]}, "legend": null}}},
        {"data": {"name": "p2"}, "transform": [{"filter": "datum.s == 'k'"}], "mark": {"type": "line", "strokeWidth": 1, "color": "#1a1a1a", "strokeDash": [4, 1]},
         "encoding": {"x": {"field": "d", "type": "quantitative", "scale": {"domain": [7.42, 10.91], "nice": false, "zero": false}, "axis": null},
                      "y": {"field": "v", "type": "quantitative", "scale": {"domain": [11.5, 13.5], "nice": false, "zero": false}}}},
        {"data": {"name": "p2lab"}, "mark": {"type": "text", "fontSize": 4.5, "align": "center"},
         "encoding": {"x": {"field": "d", "type": "quantitative", "scale": {"domain": [7.42, 10.91], "nice": false, "zero": false}, "axis": null},
                      "y": {"field": "v", "type": "quantitative", "scale": {"domain": [11.5, 13.5], "nice": false, "zero": false}},
                      "text": {"field": "t"},
                      "color": {"field": "s", "type": "nominal", "scale": {"domain": ["k", "b", "p", "g", "o", "r", "lg", "lr"], "range": ["#1a1a1a", "#1f77b4", "#e377c2", "#2ca02c", "#ff7f0e", "#d62728", "#98df8a", "#ff9896"]}, "legend": null}}},
        {"data": {"name": "r2"}, "mark": {"type": "text", "fontSize": 4.8, "color": "#333", "align": "left", "dx": 4},
         "encoding": {"x": {"datum": 10.91, "type": "quantitative", "scale": {"domain": [7.42, 10.91], "nice": false, "zero": false}, "axis": null},
                      "y": {"field": "v", "type": "quantitative", "scale": {"domain": [11.5, 13.5], "nice": false, "zero": false}},
                      "text": {"field": "v", "type": "quantitative", "format": ".2f"}}},
        {"data": {"name": "r2"}, "mark": {"type": "text", "fontSize": 5, "color": "#333", "align": "right", "dx": -4},
         "encoding": {"x": {"datum": 7.42, "type": "quantitative", "scale": {"domain": [7.42, 10.91], "nice": false, "zero": false}, "axis": null},
                      "y": {"field": "v", "type": "quantitative", "scale": {"domain": [11.5, 13.5], "nice": false, "zero": false}},
                      "text": {"field": "v", "type": "quantitative", "format": ".2f"}}}
      ]
    },
    {
      "width": 864, "height": 50,
      "title": {"text": "Logger: Vaphorlonedobe0007    Last reading 2021-11-10 15:05   \u2014 Site: 'Bathurst', Probe 101    Soil tension   \u2014 10 cm   \u2014 20 cm   \u2014 30 cm   \u2014 40 cm   \u2014 50 cm"},
      "layer": [
        {"data": {"name": "topLight"}, "mark": {"type": "rule", "color": "#d0d0d0", "strokeDash": [2, 2], "strokeWidth": 0.8}, "encoding": {"x": {"field": "d", "type": "quantitative", "scale": {"domain": [7.42, 10.91], "nice": false, "zero": false}, "axis": null}}},
        {"data": {"name": "topDark"}, "mark": {"type": "rule", "color": "#1a1a1a", "strokeDash": [2, 2], "strokeWidth": 1}, "encoding": {"x": {"field": "d", "type": "quantitative", "scale": {"domain": [7.42, 10.91], "nice": false, "zero": false}, "axis": null}}},
        {"data": {"name": "p3"}, "transform": [{"filter": "datum.s != 'k'"}], "mark": {"type": "line", "strokeWidth": 1.6},
         "encoding": {"x": {"field": "d", "type": "quantitative", "scale": {"domain": [7.42, 10.91], "nice": false, "zero": false}, "axis": null},
                      "y": {"field": "v", "type": "quantitative", "scale": {"domain": [0, 2250], "nice": false, "zero": false}, "axis": {"orient": "left", "title": "Tension [kPa]", "values": [250, 500, 750, 1000, 1250, 1500, 1750, 2000, 2250], "labels": false, "titlePadding": 18}},
                      "color": {"field": "s", "type": "nominal", "scale": {"domain": ["k", "b", "p", "g", "o", "r", "lg", "lr"], "range": ["#1a1a1a", "#1f77b4", "#e377c2", "#2ca02c", "#ff7f0e", "#d62728", "#98df8a", "#ff9896"]}, "legend": null}}},
        {"data": {"name": "p3"}, "transform": [{"filter": "datum.s == 'k'"}], "mark": {"type": "line", "strokeWidth": 1, "color": "#555", "strokeDash": [3, 2]},
         "encoding": {"x": {"field": "d", "type": "quantitative", "scale": {"domain": [7.42, 10.91], "nice": false, "zero": false}, "axis": null},
                      "y": {"field": "v", "type": "quantitative", "scale": {"domain": [0, 2250], "nice": false, "zero": false}}}},
        {"data": {"name": "p3lab"}, "mark": {"type": "text", "fontSize": 5, "align": "center"},
         "encoding": {"x": {"field": "d", "type": "quantitative", "scale": {"domain": [7.42, 10.91], "nice": false, "zero": false}, "axis": null},
                      "y": {"field": "v", "type": "quantitative", "scale": {"domain": [0, 2250], "nice": false, "zero": false}},
                      "text": {"field": "t"},
                      "color": {"field": "s", "type": "nominal", "scale": {"domain": ["k", "b", "p", "g", "o", "r", "lg", "lr"], "range": ["#1a1a1a", "#1f77b4", "#e377c2", "#2ca02c", "#ff7f0e", "#d62728", "#98df8a", "#ff9896"]}, "legend": null}}},
        {"data": {"name": "r3"}, "mark": {"type": "text", "fontSize": 4.8, "color": "#333", "align": "left", "dx": 4},
         "encoding": {"x": {"datum": 10.91, "type": "quantitative", "scale": {"domain": [7.42, 10.91], "nice": false, "zero": false}, "axis": null},
                      "y": {"field": "v", "type": "quantitative", "scale": {"domain": [0, 2250], "nice": false, "zero": false}},
                      "text": {"field": "v", "type": "quantitative", "format": ","}}},
        {"data": {"name": "r3"}, "mark": {"type": "text", "fontSize": 5, "color": "#333", "align": "right", "dx": -4},
         "encoding": {"x": {"datum": 7.42, "type": "quantitative", "scale": {"domain": [7.42, 10.91], "nice": false, "zero": false}, "axis": null},
                      "y": {"field": "v", "type": "quantitative", "scale": {"domain": [0, 2250], "nice": false, "zero": false}},
                      "text": {"field": "v", "type": "quantitative", "format": ","}}}
      ]
    },
    {
      "width": 864, "height": 53,
      "title": {"text": "Irrigation & soil activity    Logger: Vaphorlonedobe0007    Last reading 2021-11-10 15:05   \u2014 Site: 'Bathurst', Probe 101    Soil water   \u2014 10 cm   \u2014 20 cm   \u2014 30 cm   \u2014 40 cm   \u2014 50 cm"},
      "layer": [
        {"data": {"name": "topLight"}, "mark": {"type": "rule", "color": "#d0d0d0", "strokeDash": [2, 2], "strokeWidth": 0.8}, "encoding": {"x": {"field": "d", "type": "quantitative", "scale": {"domain": [7.42, 10.91], "nice": false, "zero": false}}}},
        {"data": {"name": "topDark"}, "mark": {"type": "rule", "color": "#1a1a1a", "strokeDash": [2, 2], "strokeWidth": 1}, "encoding": {"x": {"field": "d", "type": "quantitative", "scale": {"domain": [7.42, 10.91], "nice": false, "zero": false}}}},
        {"data": {"name": "p4blob"}, "transform": [{"filter": "datum.kind == 'light'"}], "mark": {"type": "area", "interpolate": "monotone", "color": "#b9b9f4", "opacity": 0.7},
         "encoding": {"x": {"field": "d", "type": "quantitative", "scale": {"domain": [7.42, 10.91], "nice": false, "zero": false}},
                      "y": {"field": "v", "type": "quantitative", "scale": {"domain": [5, 60], "nice": false, "zero": false}},
                      "y2": {"field": "top"}, "detail": {"field": "seg"}}},
        {"data": {"name": "p4blob"}, "transform": [{"filter": "datum.kind == 'dark'"}],
         "mark": {"type": "area", "interpolate": "monotone", "opacity": 0.9, "color": {"gradient": "linear", "x1": 0, "y1": 0, "x2": 0, "y2": 1, "stops": [{"offset": 0, "color": "#3434e2"}, {"offset": 1, "color": "#dcdcfa"}]}},
         "encoding": {"x": {"field": "d", "type": "quantitative", "scale": {"domain": [7.42, 10.91], "nice": false, "zero": false}},
                      "y": {"field": "v", "type": "quantitative", "scale": {"domain": [5, 60], "nice": false, "zero": false}},
                      "y2": {"field": "top"}, "detail": {"field": "seg"}}},
        {"data": {"name": "p4"}, "transform": [{"filter": "datum.s != 'k'"}], "mark": {"type": "line", "strokeWidth": 1.6},
         "encoding": {"x": {"field": "d", "type": "quantitative", "scale": {"domain": [7.42, 10.91], "nice": false, "zero": false}},
                      "y": {"field": "v", "type": "quantitative", "scale": {"domain": [5, 60], "nice": false, "zero": false}, "axis": {"orient": "left", "title": "Soil water [%]", "values": [10, 15, 25, 35, 45, 55], "labels": false, "titlePadding": 18}},
                      "color": {"field": "s", "type": "nominal", "scale": {"domain": ["k", "b", "p", "g", "o", "r", "lg", "lr"], "range": ["#1a1a1a", "#1f77b4", "#e377c2", "#2ca02c", "#ff7f0e", "#d62728", "#98df8a", "#ff9896"]}, "legend": null},
                      "detail": {"field": "seg"}}},
        {"data": {"name": "p4"}, "transform": [{"filter": "datum.s == 'k'"}], "mark": {"type": "line", "strokeWidth": 1.2, "color": "#1a1a1a"},
         "encoding": {"x": {"field": "d", "type": "quantitative", "scale": {"domain": [7.42, 10.91], "nice": false, "zero": false},
                            "axis": {"orient": "bottom", "values": [7.5, 7.75, 8, 8.25, 8.5, 8.75, 9, 9.25, 9.5, 9.75, 10, 10.25, 10.5, 10.75], "labelExpr": "pad(toString(round((datum.value - floor(datum.value)) * 24)), 2, '0', 'left') + ':00'", "labelOverlap": false, "title": "Date/time (Australia/Sydney, UTC+11:00)", "titleFontSize": 5, "titleColor": "#3a9ab0", "titlePadding": 10, "domainColor": "#000", "domainWidth": 2, "tickSize": 3}},
                      "y": {"field": "v", "type": "quantitative", "scale": {"domain": [5, 60], "nice": false, "zero": false}}}},
        {"data": {"name": "p4lab"}, "mark": {"type": "text", "fontSize": 5, "align": "center"},
         "encoding": {"x": {"field": "d", "type": "quantitative", "scale": {"domain": [7.42, 10.91], "nice": false, "zero": false}},
                      "y": {"field": "v", "type": "quantitative", "scale": {"domain": [5, 60], "nice": false, "zero": false}},
                      "text": {"field": "t"},
                      "color": {"field": "s", "type": "nominal", "scale": {"domain": ["k", "b", "p", "g", "o", "r", "lg", "lr"], "range": ["#1a1a1a", "#1f77b4", "#e377c2", "#2ca02c", "#ff7f0e", "#d62728", "#98df8a", "#ff9896"]}, "legend": null}}},
        {"data": {"name": "r4"}, "mark": {"type": "text", "fontSize": 5, "color": "#333", "align": "left", "dx": 4},
         "encoding": {"x": {"datum": 10.91, "type": "quantitative", "scale": {"domain": [7.42, 10.91], "nice": false, "zero": false}},
                      "y": {"field": "v", "type": "quantitative", "scale": {"domain": [5, 60], "nice": false, "zero": false}},
                      "text": {"field": "v", "type": "quantitative", "format": "d"}}},
        {"data": {"name": "r4"}, "mark": {"type": "text", "fontSize": 5, "color": "#333", "align": "right", "dx": -4},
         "encoding": {"x": {"datum": 7.42, "type": "quantitative", "scale": {"domain": [7.42, 10.91], "nice": false, "zero": false}},
                      "y": {"field": "v", "type": "quantitative", "scale": {"domain": [5, 60], "nice": false, "zero": false}},
                      "text": {"field": "v", "type": "quantitative", "format": "d"}}},
        {"data": {"name": "topDates"}, "mark": {"type": "text", "fontSize": 5, "color": "#333", "align": "center", "baseline": "top", "dy": 11},
         "encoding": {"x": {"field": "d", "type": "quantitative", "scale": {"domain": [7.42, 10.91], "nice": false, "zero": false}},
                      "y": {"datum": 5, "type": "quantitative", "scale": {"domain": [5, 60], "nice": false, "zero": false}},
                      "text": {"field": "t"}}}
      ]
    },
    {
      "width": 866, "height": 147,
      "title": {"text": "Logger: Vaphorlonedobe0008    Last reading 2021-07-14 00:45   \u2014 Site: 'Bathurst', Probe 101    Soil temp   \u2014 10 cm   \u2014 20 cm   \u2014 30 cm   \u2014 40 cm   \u2014 50 cm", "offset": 7},
      "layer": [
        {"data": {"name": "botLight"}, "mark": {"type": "rule", "color": "#d4d4d4", "strokeDash": [2, 2], "strokeWidth": 0.8}, "encoding": {"x": {"field": "d", "type": "quantitative", "scale": {"domain": [1.79, 14.04], "nice": false, "zero": false}, "axis": null}}},
        {"data": {"name": "botDark"}, "mark": {"type": "rule", "color": "#1a1a1a", "strokeDash": [2, 2], "strokeWidth": 1}, "encoding": {"x": {"field": "d", "type": "quantitative", "scale": {"domain": [1.79, 14.04], "nice": false, "zero": false}, "axis": null}}},
        {"data": {"name": "p5"}, "transform": [{"filter": "datum.s != 'k'"}], "mark": {"type": "line", "strokeWidth": 1.2, "strokeDash": [5, 2]},
         "encoding": {"x": {"field": "d", "type": "quantitative", "scale": {"domain": [1.79, 14.04], "nice": false, "zero": false}, "axis": null},
                      "y": {"field": "v", "type": "quantitative", "scale": {"domain": [10, 30], "nice": false, "zero": false}, "axis": {"orient": "left", "title": "T [\u00b0C] [RH]", "values": [11, 12, 13, 14, 15, 16, 17, 18, 19, 20, 21, 22, 23, 24, 25, 26, 27, 28, 29, 30], "labels": false, "titlePadding": 20}},
                      "color": {"field": "s", "type": "nominal", "scale": {"domain": ["k", "b", "p", "g", "o", "r", "lg", "lr"], "range": ["#1a1a1a", "#1f77b4", "#e377c2", "#2ca02c", "#ff7f0e", "#d62728", "#98df8a", "#ff9896"]}, "legend": null}}},
        {"data": {"name": "p5"}, "transform": [{"filter": "datum.s == 'k'"}], "mark": {"type": "line", "strokeWidth": 1.1, "color": "#1a1a1a"},
         "encoding": {"x": {"field": "d", "type": "quantitative", "scale": {"domain": [1.79, 14.04], "nice": false, "zero": false}, "axis": null},
                      "y": {"field": "v", "type": "quantitative", "scale": {"domain": [10, 30], "nice": false, "zero": false}}}},
        {"data": {"name": "r5"}, "mark": {"type": "text", "fontSize": 5, "color": "#333", "align": "right", "dx": -4},
         "encoding": {"x": {"datum": 1.79, "type": "quantitative", "scale": {"domain": [1.79, 14.04], "nice": false, "zero": false}, "axis": null},
                      "y": {"field": "v", "type": "quantitative", "scale": {"domain": [10, 30], "nice": false, "zero": false}},
                      "text": {"field": "v", "type": "quantitative", "format": ".2f"}}}
      ]
    },
    {
      "width": 866, "height": 140,
      "title": {"text": "Irrigation & soil activity    Logger: Vaphorlonedobe0008    Last reading 2021-07-14 00:45   \u2014 Site: 'Bathurst', Probe 101    Soil water   \u2014 10 cm   \u2014 20 cm   \u2014 30 cm   \u2014 40 cm   \u2014 50 cm", "offset": 9},
      "layer": [
        {"data": {"name": "botLight"}, "mark": {"type": "rule", "color": "#d4d4d4", "strokeDash": [2, 2], "strokeWidth": 0.8}, "encoding": {"x": {"field": "d", "type": "quantitative", "scale": {"domain": [1.79, 14.04], "nice": false, "zero": false}}}},
        {"data": {"name": "botDark"}, "mark": {"type": "rule", "color": "#1a1a1a", "strokeDash": [2, 2], "strokeWidth": 1}, "encoding": {"x": {"field": "d", "type": "quantitative", "scale": {"domain": [1.79, 14.04], "nice": false, "zero": false}}}},
        {"data": {"name": "p6bands"}, "transform": [{"filter": "datum.kind == 'event'"}], "mark": {"type": "rect", "color": "#8f8ff0", "opacity": 0.6},
         "encoding": {"x": {"field": "d1", "type": "quantitative", "scale": {"domain": [1.79, 14.04], "nice": false, "zero": false}}, "x2": {"field": "d2"},
                      "y": {"field": "v1", "type": "quantitative", "scale": {"domain": [10, 35], "nice": false, "zero": false}}, "y2": {"field": "v2"}}},
        {"data": {"name": "p6bands"}, "transform": [{"filter": "datum.kind == 'minor'"}], "mark": {"type": "rect", "color": "#c4c4f6", "opacity": 0.6},
         "encoding": {"x": {"field": "d1", "type": "quantitative", "scale": {"domain": [1.79, 14.04], "nice": false, "zero": false}}, "x2": {"field": "d2"},
                      "y": {"field": "v1", "type": "quantitative", "scale": {"domain": [10, 35], "nice": false, "zero": false}}, "y2": {"field": "v2"}}},
        {"data": {"name": "p6bands"}, "transform": [{"filter": "datum.kind == 'end'"}], "mark": {"type": "rect", "color": "#b0b0f2", "opacity": 0.6},
         "encoding": {"x": {"field": "d1", "type": "quantitative", "scale": {"domain": [1.79, 14.04], "nice": false, "zero": false}}, "x2": {"field": "d2"},
                      "y": {"field": "v1", "type": "quantitative", "scale": {"domain": [10, 35], "nice": false, "zero": false}}, "y2": {"field": "v2"}}},
        {"data": {"name": "p6ell"}, "transform": [{"filter": "datum.kind == 'big'"}], "mark": {"type": "point", "shape": "M-1,0A1,0.66,0,1,0,1,0A1,0.66,0,1,0,-1,0Z", "filled": true, "color": "#9a9a9a", "opacity": 0.55, "size": 900},
         "encoding": {"x": {"field": "d", "type": "quantitative", "scale": {"domain": [1.79, 14.04], "nice": false, "zero": false}},
                      "y": {"field": "v", "type": "quantitative", "scale": {"domain": [10, 35], "nice": false, "zero": false}}}},
        {"data": {"name": "p6ell"}, "transform": [{"filter": "datum.kind == 'small'"}], "mark": {"type": "point", "shape": "M-1,0A1,0.55,0,1,0,1,0A1,0.55,0,1,0,-1,0Z", "filled": true, "color": "#9a9a9a", "opacity": 0.55, "size": 230},
         "encoding": {"x": {"field": "d", "type": "quantitative", "scale": {"domain": [1.79, 14.04], "nice": false, "zero": false}},
                      "y": {"field": "v", "type": "quantitative", "scale": {"domain": [10, 35], "nice": false, "zero": false}}}},
        {"data": {"name": "p6"}, "transform": [{"filter": "datum.s != 'k'"}], "mark": {"type": "line", "strokeWidth": 1.2, "strokeDash": [6, 2]},
         "encoding": {"x": {"field": "d", "type": "quantitative", "scale": {"domain": [1.79, 14.04], "nice": false, "zero": false}},
                      "y": {"field": "v", "type": "quantitative", "scale": {"domain": [10, 35], "nice": false, "zero": false}, "axis": {"orient": "left", "title": "Soil water [vol %]", "titleColor": "#3d6fb5", "values": [11, 12, 13, 14, 15, 16, 17, 18, 19, 20, 21, 22, 23, 24, 25, 26, 27, 28, 29, 30, 31, 32, 33, 34], "labels": false, "titlePadding": 22}},
                      "color": {"field": "s", "type": "nominal", "scale": {"domain": ["k", "b", "p", "g", "o", "r", "lg", "lr"], "range": ["#1a1a1a", "#1f77b4", "#e377c2", "#2ca02c", "#ff7f0e", "#d62728", "#98df8a", "#ff9896"]}, "legend": null}}},
        {"data": {"name": "p6"}, "transform": [{"filter": "datum.s == 'k'"}], "mark": {"type": "line", "strokeWidth": 1.1, "color": "#1a1a1a", "strokeDash": [5, 1]},
         "encoding": {"x": {"field": "d", "type": "quantitative", "scale": {"domain": [1.79, 14.04], "nice": false, "zero": false},
                            "axis": {"orient": "bottom", "values": [2, 3, 4, 5, 6, 7, 8, 9, 10, 11, 12, 13, 14], "labelExpr": "pad(toString(datum.value), 2, '0', 'left') + ' Jul'", "labelOverlap": false, "title": "Date", "titleFontSize": 5, "titlePadding": 1, "tickSize": 3, "labelPadding": 2, "domainColor": "#111", "domainWidth": 2}},
                      "y": {"field": "v", "type": "quantitative", "scale": {"domain": [10, 35], "nice": false, "zero": false}}}},
        {"data": {"name": "r6"}, "mark": {"type": "text", "fontSize": 5, "color": "#333", "align": "right", "dx": -4},
         "encoding": {"x": {"datum": 1.79, "type": "quantitative", "scale": {"domain": [1.79, 14.04], "nice": false, "zero": false}},
                      "y": {"field": "v", "type": "quantitative", "scale": {"domain": [10, 35], "nice": false, "zero": false}},
                      "text": {"field": "v", "type": "quantitative", "format": "d"}}}
      ]
    }
  ]
}
